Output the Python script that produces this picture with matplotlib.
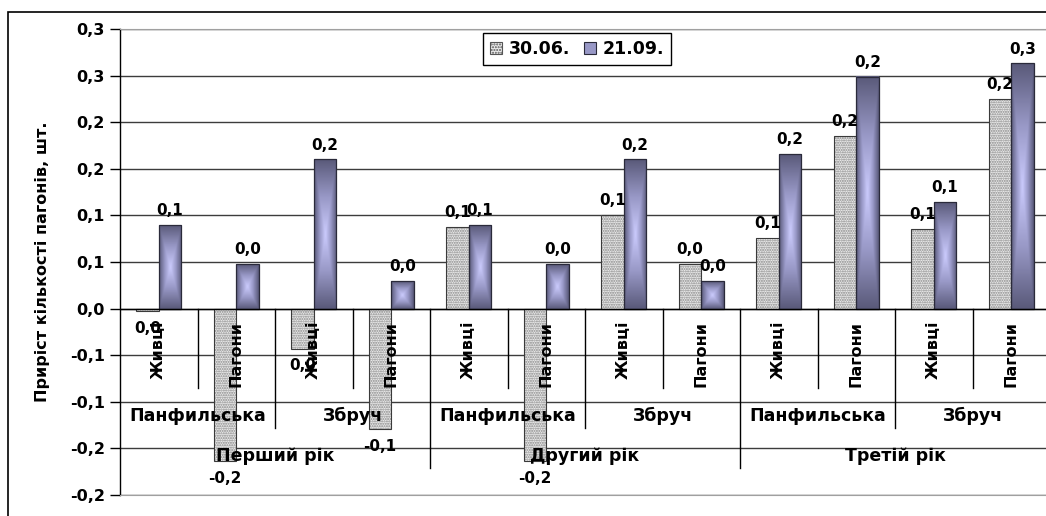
import matplotlib
matplotlib.use('Agg')
import matplotlib.pyplot as plt
import numpy as np
from decimal import Decimal, ROUND_HALF_UP
from matplotlib.patches import Patch, Rectangle
from matplotlib.colors import LinearSegmentedColormap

plt.rcParams['font.family'] = ['DejaVu Sans']
plt.rcParams['font.weight'] = 'bold'

# дані
varieties = ['Живці', 'Пагони'] * 6
sorts = ['Панфильська', 'Збруч'] * 3
years = ['Перший рік', 'Другий рік', 'Третій рік']
series_names = ['30.06.', '21.09.']
v_3006 = [-0.003, -0.164, -0.043, -0.129, 0.088, -0.164, 0.100, 0.048, 0.076, 0.185, 0.085, 0.225]
v_2109 = [0.090, 0.048, 0.160, 0.030, 0.090, 0.048, 0.160, 0.030, 0.166, 0.249, 0.114, 0.263]
y_ticks = [-0.2, -0.15, -0.1, -0.05, 0.0, 0.05, 0.1, 0.15, 0.2, 0.25, 0.3]


def fmt(v):
    s = str(Decimal(str(v)).quantize(Decimal('0.1'), rounding=ROUND_HALF_UP))
    if s == '-0.0':
        s = '0.0'
    return s.replace('.', ',')


W, H = 1046, 516
fig = plt.figure(figsize=(W / 100, H / 100), dpi=100)
ax = fig.add_axes([120 / W, 21 / H, (W - 120) / W, 466 / H])

n = len(varieties)
x = np.arange(n)
bw = 0.29

# 30.06. - крапчасті стовпці
ax.bar(x - bw / 2, v_3006, bw, color='#ebebeb', hatch='.......', edgecolor='#858585',
       linewidth=0, zorder=3)
ax.bar(x - bw / 2, v_3006, bw, fill=False, edgecolor='#3a3a3a', linewidth=0.8, zorder=4)

# 21.09. - градієнт від центру
cmap = LinearSegmentedColormap.from_list('g', ['#cbcbfd', '#9898c6', '#5a5a7a'])
for xi, v in zip(x, v_2109):
    gx = np.linspace(-1, 1, 40)
    gy = np.linspace(-1, 1, 120)
    X, Y = np.meshgrid(gx, gy)
    Z = np.maximum(np.abs(X), np.abs(Y))
    ax.imshow(Z, cmap=cmap, vmin=0, vmax=1, aspect='auto', zorder=3,
              extent=[xi, xi + bw, 0, v], interpolation='bilinear')
ax.bar(x + bw / 2, v_2109, bw, fill=False, edgecolor='#2a2a3a', linewidth=0.9, zorder=4)

# підписи значень
for vals, off in ((v_3006, -bw / 2), (v_2109, bw / 2)):
    for xi, v in zip(x, vals):
        if v >= 0:
            ax.annotate(fmt(v), (xi + off, v), xytext=(0, 5), textcoords='offset points',
                        ha='center', va='bottom', fontsize=11, fontweight='bold', zorder=6)
        else:
            ax.annotate(fmt(v), (xi + off, v), xytext=(0, -7), textcoords='offset points',
                        ha='center', va='top', fontsize=11, fontweight='bold', zorder=6)

# багаторівнева вісь категорій
for i, lab in enumerate(varieties):
    ax.text(i, -0.013, lab, rotation=90, ha='center', va='top', fontsize=11.5,
            fontweight='bold', zorder=7)
for j, lab in enumerate(sorts):
    ax.text(2 * j + 0.5, -0.115, lab, ha='center', va='center', fontsize=12.5,
            fontweight='bold', zorder=7)
for k, lab in enumerate(years):
    ax.text(4 * k + 1.5, -0.158, lab, ha='center', va='center', fontsize=12.5,
            fontweight='bold', zorder=7)
for b in range(1, n):
    if b % 4 == 0:
        y1 = -0.171
    elif b % 2 == 0:
        y1 = -0.128
    else:
        y1 = -0.085
    ax.plot([b - 0.5, b - 0.5], [0, y1], color='black', lw=1.0, zorder=5)
ax.axhline(0, color='black', lw=1.0, zorder=5)

ax.set_xlim(-0.5, n - 0.5 - (1050 - W) / 77.5)
ax.set_ylim(-0.2, 0.3)
ax.set_yticks(y_ticks)
ax.set_yticklabels([fmt(t) for t in y_ticks], fontsize=11.5, fontweight='bold')
ax.set_xticks([])
ax.tick_params(axis='y', length=7, width=1, pad=4, color='black')
ax.yaxis.grid(True, color='#3c3c3c', lw=1.0, zorder=0)
ax.set_axisbelow(True)
for s in ('top', 'bottom'):
    ax.spines[s].set_color('#a0a0a0')
ax.spines['right'].set_visible(False)
ax.spines['left'].set_linewidth(1.0)
ax.set_ylabel('Приріст кількості пагонів, шт.', fontsize=11.5, fontweight='bold')
ax.yaxis.set_label_coords(-70 / (W - 120), 0.5)

# легенда
h1 = Patch(facecolor='#ebebeb', hatch='......', edgecolor='#555555', linewidth=0.8)
h2 = Patch(facecolor='#9898c6', edgecolor='#2a2a3a', linewidth=0.8)
fig.legend([h1, h2], series_names, loc='center', bbox_to_anchor=(577 / W, 1 - 49 / H),
           ncol=2, fancybox=False, edgecolor='black', framealpha=1, handlelength=0.7,
           handleheight=0.7, handletextpad=0.4, columnspacing=0.8, borderpad=0.4,
           prop={'size': 12.5, 'weight': 'bold'})

# рамка діаграми
fig.patches.append(Rectangle((8 / W, -0.1), 1.2, 1 - 12 / H + 0.1, transform=fig.transFigure,
                             fill=False, edgecolor='black', lw=1.2))

fig.savefig('out.png', dpi=100)
